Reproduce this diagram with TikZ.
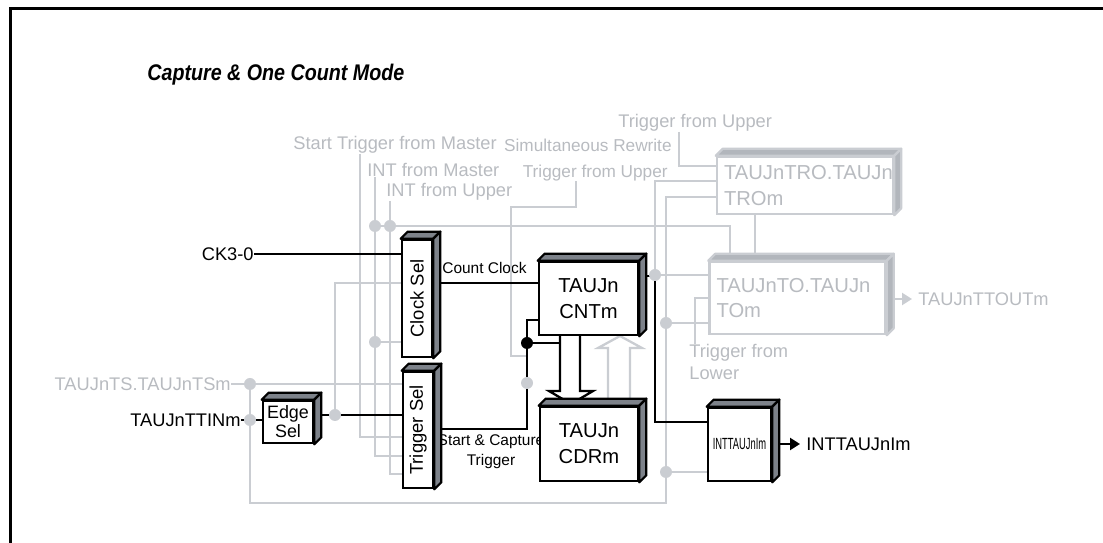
\documentclass[tikz,border=0pt]{standalone}
\usepackage{fontspec}
\setmainfont{Liberation Sans}
\usetikzlibrary{arrows.meta, positioning, calc}
\definecolor{cGray}{RGB}{202,205,210}
\definecolor{cGrayTxt}{RGB}{184,187,192}
\definecolor{cBevel}{RGB}{125,130,138}
\definecolor{cGBevel}{RGB}{178,182,188}

% top and side faces of a 3d block
\newcommand{\bevel}[3]{%
  \filldraw[fill=#2, draw=#3, line width=1.3pt, line join=round] (#1.north west) -- ++(7,-7) -- ($(#1.north east)+(7,-7)$) -- (#1.north east) -- cycle;
  \filldraw[fill=#2, draw=#3, line width=1.3pt, line join=round] (#1.north east) -- ++(7,-7) -- ($(#1.south east)+(7,-7)$) -- (#1.south east) -- cycle;}

\begin{document}
\begin{tikzpicture}[x=0.02cm, y=-0.02cm,
  blk/.style={draw=black, line width=1.5pt, fill=white, inner sep=0pt, align=center, font=\fontsize{11.5}{14.8}\selectfont},
  gblk/.style={draw=cGray, line width=1.4pt, fill=white, inner ysep=0pt, inner xsep=0.14cm, align=left, text=cGrayTxt, font=\fontsize{11.5}{14.3}\selectfont},
  lbl/.style={inner sep=0pt, font=\fontsize{10.4}{12.4}\selectfont},
  glbl/.style={lbl, text=cGrayTxt},
  sml/.style={inner sep=0pt, align=center, font=\fontsize{8.8}{11.4}\selectfont},
  wire/.style={line width=1.3pt},
  gwire/.style={cGray, line width=1.3pt},
  gdot/.style={circle, fill=cGray, inner sep=0pt, minimum size=0.24cm},
  bdot/.style={circle, fill=black, inner sep=0pt, minimum size=0.24cm}]
\useasboundingbox (0,0) rectangle (1103,543);
\draw[line width=1.7pt] (10.5,543) -- (10.5,8.5) -- (1103,8.5);

\node[anchor=west, inner sep=0pt, font=\fontsize{11.2}{13}\selectfont\bfseries\itshape] (title) at (147,75) {\scalebox{1}[1.15]{Capture \& One Count Mode}};

% labels
\node[lbl, anchor=east] (ck) at (254,254) {CK3-0};
\node[lbl, anchor=east] (ttin) at (241,420) {TAUJnTTINm};
\node[glbl, anchor=east] (ts) at (231,384) {TAUJnTS.TAUJnTSm};
\node[glbl, anchor=west] (stm) at (293,145) {Start Trigger from Master};
\node[glbl, anchor=west] (imas) at (367,170) {INT from Master};
\node[glbl, anchor=west] (iup) at (386,192) {INT from Upper};
\node[glbl, anchor=east, font=\fontsize{9.8}{12}\selectfont] (simr) at (672,145) {Simultaneous Rewrite};
\node[glbl, anchor=east, font=\fontsize{9.8}{12}\selectfont] (tfu1) at (668,173) {Trigger from Upper};
\node[glbl, anchor=west] (tfu2) at (618,123) {Trigger from Upper};
\node[glbl, anchor=west, align=left, font=\fontsize{10.4}{12.2}\selectfont] (tfl) at (689,362) {Trigger from\\Lower};
\node[glbl, anchor=west] (ttout) at (918,299) {TAUJnTTOUTm};
\node[lbl, anchor=west] (intout) at (806,444) {INTTAUJnIm};
\node[sml, anchor=west] (cclbl) at (442,268) {Count Clock};
\node[sml] (sclbl) at (491,452) {Start \& Capture\\Trigger};

% bend points
\coordinate (e1) at (335,415);
\coordinate (e2) at (335,283);
\coordinate (g1) at (360,437);
\coordinate (g2) at (375,456);
\coordinate (g3) at (390,474);
\coordinate (h1) at (375,226);
\coordinate (h2) at (730,226);
\coordinate (bl) at (250,503);
\coordinate (r1) at (655,181);
\coordinate (r1b) at (655,275);
\coordinate (r2) at (666,197);
\coordinate (r3) at (755,214);
\coordinate (u1) at (576,207);
\coordinate (u2) at (511,207);
\coordinate (u3) at (511,356);
\coordinate (u4) at (527,356);
\coordinate (v1) at (679,166);
\coordinate (w1) at (695,298);
\coordinate (cc) at (440,283);
\coordinate (tb) at (527,429);
\coordinate (tt) at (527,320);
\coordinate (o1) at (655,276);
\coordinate (o2) at (655,422);

% inactive paths
\draw[gwire] (g1 |- stm.south) -- (g1) -- (g1 -| 418,0);
\draw[gwire] (g2 |- imas.south) -- (g2) -- (g2 -| 418,0);
\draw[gwire] (g3 |- iup.south) -- (g3) -- (g3 -| 418,0);
\draw[gwire] (h1) -- (h2) -- (h2 |- 0,298);
\draw[gwire] (375,342) -- (417,342);
\draw[gwire] (e1) -- (e2) -- (e2 -| 417,0);
\draw[gwire] (ts.east) -- (ts.east -| 418,0);
\draw[gwire] (bl |- ts.east) -- (bl) -| (r2) -- (r2 -| 800,0);
\draw[gwire] (666,323) -- (797,323);
\draw[gwire] (666,472) -- (739,472);
\draw[gwire] (u1 |- tfu1.south) -- (u1) -- (u2) -- (u3) -- (u4);
\draw[gwire] (v1 |- tfu2.south) -- (v1) -- (v1 -| 800,0);
\draw[gwire] (r1 -| 800,0) -- (r1) -- (r1b) -- (r1b -| 797,0);
\draw[gwire] (r3) -- (r3 |- 0,298);
\draw[gwire] (w1 |- tfl.north) -- (w1) -- (w1 -| 797,0);
\draw[gwire, fill=white] (608,400) -- (608,348) -- (598,348) -- (620,336) -- (642,348) -- (630,348) -- (630,400);
\draw[gwire, -{Triangle[length=0.2cm, width=0.24cm]}, shorten >=0.12cm] (797,299) -- (ttout.west);

% active paths
\draw[wire] (ck.east) -- (ck.east -| 417,0);
\draw[wire] (cc) -- (cc -| 588,0);
\draw[wire] (ttin.east) -- (ttin.east -| 288,0);
\draw[wire] (e1 -| 288,0) -- (e1) -- (e1 -| 418,0);
\draw[wire] (tb -| 418,0) -- (tb) -- (tt) -- (tt -| 588,0);
\draw[wire] (527,343) -- (560,343);
\draw[wire] (o1 -| 588,0) -- (o1) -- (o2) -- (o2 -| 739,0);
\draw[wire, fill=white, line join=miter] (560,335) -- (560,391) -- (549,391) -- (571,404) -- (593,391) -- (580,391) -- (580,335);
\draw[wire, -{Triangle[length=0.2cm, width=0.24cm]}, shorten >=0.12cm] (739,444) -- (intout.west);

% blocks
\node[blk, minimum width=0.6cm, minimum height=2.34cm, font=\fontsize{10.5}{12}\selectfont] (clk) at (417,298.5) {\rotatebox{90}{Clock Sel}};
\bevel{clk}{cBevel}{black}
\node[blk, minimum width=0.6cm, minimum height=2.32cm, font=\fontsize{10.5}{12}\selectfont] (trg) at (418,430) {\rotatebox{90}{Trigger Sel}};
\bevel{trg}{cBevel}{black}
\node[blk, minimum width=1.0cm, minimum height=0.84cm, font=\fontsize{10.2}{10.8}\selectfont] (edge) at (288,422) {Edge\\Sel};
\bevel{edge}{cBevel}{black}
\node[blk, minimum width=1.98cm, minimum height=1.46cm] (cnt) at (588.5,298.5) {TAUJn\\CNTm};
\bevel{cnt}{cBevel}{black}
\node[blk, minimum width=1.96cm, minimum height=1.48cm] (cdr) at (589,444) {TAUJn\\CDRm};
\bevel{cdr}{cBevel}{black}
\node[blk, minimum width=1.26cm, minimum height=1.46cm, font=\fontsize{9.2}{11}\selectfont] (int) at (739.5,444.5) {\scalebox{0.58}[1]{INTTAUJnIm}};
\bevel{int}{cBevel}{black}
\node[gblk, text width=3.24cm, minimum height=1.44cm] (to) at (797.5,298) {TAUJnTO.TAUJn\\TOm};
\bevel{to}{cGBevel}{cGray}
\node[gblk, text width=3.24cm, minimum height=1.14cm] (tro) at (805,185.5) {TAUJnTRO.TAUJn\\TROm};
\bevel{tro}{cGBevel}{cGray}

% junctions
\node[gdot] (d1) at (h1) {};
\node[gdot] (d2) at (390,226) {};
\node[gdot] (d3) at (375,342) {};
\node[gdot] (d4) at (e1) {};
\node[gdot] (d5) at (250,384) {};
\node[gdot] (d6) at (250,420) {};
\node[gdot] (d7) at (527,383) {};
\node[gdot] (d8) at (666,323) {};
\node[gdot] (d9) at (666,472) {};
\node[gdot] (d10) at (r1b) {};
\node[bdot] (d11) at (527,343) {};
\end{tikzpicture}
\end{document}
